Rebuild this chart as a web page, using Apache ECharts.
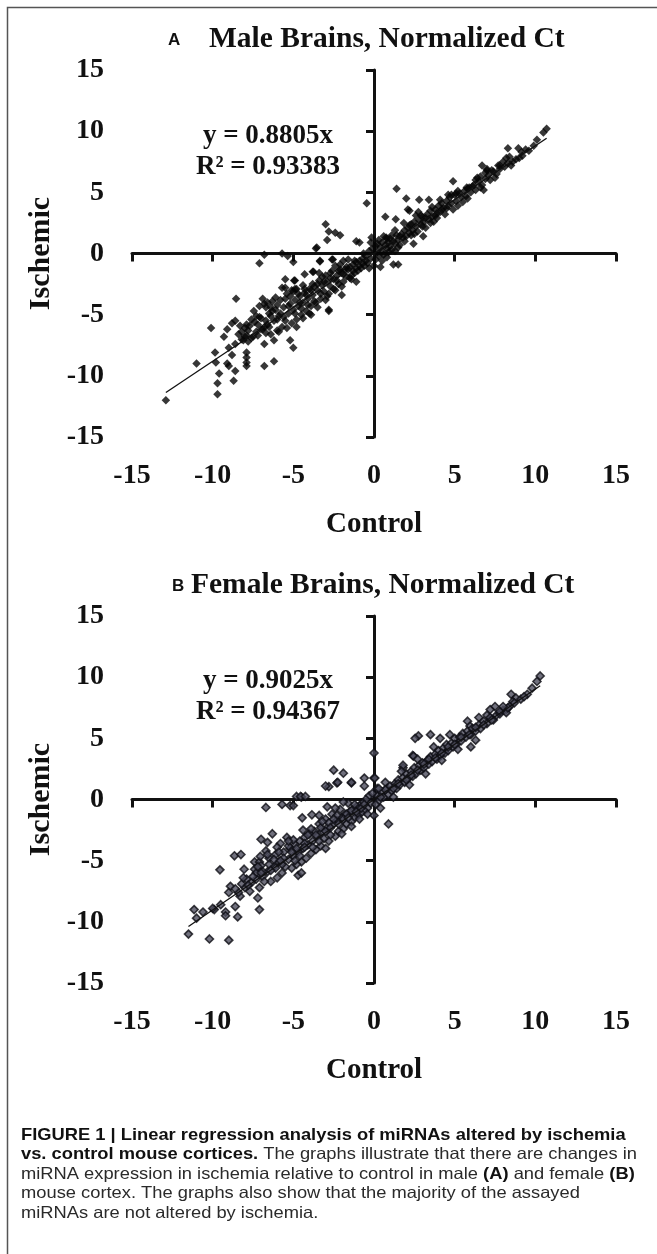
<!DOCTYPE html>
<html>
<head>
<meta charset="utf-8">
<script src="https://cdn.jsdelivr.net/npm/echarts@6/dist/echarts.min.js"></script>
<style>
  html, body { margin: 0; padding: 0; background: #fff; }
  #chart { width: 657px; height: 1254px; }
</style>
</head>
<body>
<div id="chart"></div>
<script>
// axis range shared by both panels
const axisMin = -15;
const axisMax = 15;
const axisStep = 5;

// regression results printed on each panel
const maleSlope = 0.8805;
const maleR2 = '0.93383';
const femaleSlope = 0.9025;
const femaleR2 = '0.94367';
const maleFitRange = [-12.9, 10.7];
const femaleFitRange = [-11.5, 10.3];

// male brains: [control, ischemic]
const malePoints = [
  [-12.9, -12.0], [-9.7, -11.5], [-9.7, -10.6], [-8.7, -10.4], [-9.6, -9.8], [-11.0, -9.0], [-9.85, -8.1],
  [-9.8, -8.9], [-9.1, -9.0], [-9.0, -9.2], [-8.6, -9.6], [-7.9, -9.2], [-7.9, -8.9], [-7.9, -8.5],
  [-7.9, -8.1], [-8.8, -8.3], [-9.0, -7.7], [-10.1, -6.1], [-9.3, -6.8], [-9.1, -6.2], [-8.8, -5.7],
  [-8.6, -5.5], [-8.55, -3.7], [-7.9, -5.8], [-8.2, -6.4], [-8.1, -7.1], [-7.8, -7.2], [-7.5, -6.8],
  [-7.2, -6.7], [-6.8, -7.4], [-6.8, -9.2], [-6.2, -8.8], [-7.45, -4.7], [-6.9, -3.7], [-6.8, -4.1],
  [-7.1, -5.2], [-6.7, -5.5], [-6.5, -6.0], [-6.2, -7.1], [-7.1, -0.8], [-6.8, -0.1], [-5.7, 0.0],
  [-5.35, -0.2], [-5.0, -0.7], [-5.5, -2.1], [-5.5, -2.8], [-4.9, -2.2], [-4.9, -2.9], [-5.0, -7.7],
  [-5.2, -7.1], [-4.3, -1.7], [-3.8, -1.5], [-3.35, -0.6], [-2.6, -0.5], [-3.55, 0.5], [-2.8, -4.7],
  [-2.0, -3.4], [-1.1, -2.3], [-0.65, 0.0], [-0.45, 4.1], [-3.0, 2.4], [-2.8, 1.8], [-2.4, 1.7],
  [-2.1, 1.5], [-2.9, 1.1], [-1.1, 1.0], [-0.9, 0.9], [-0.15, 1.3], [0.8, 1.2], [-3.6, 0.4],
  [-3.35, -0.65], [-2.55, -0.5], [1.2, -0.9], [1.5, -0.9], [-4.95, -2.2], [-4.8, -2.9], [-3.75, -1.5],
  [-2.8, -4.6],
  [10.7, 10.2], [10.5, 9.9], [10.1, 9.3], [8.3, 8.6], [8.95, 8.6], [9.15, 8.3], [8.6, 7.5], [8.0, 7.5],
  [7.8, 7.2], [6.7, 7.2], [7.0, 6.8], [6.6, 6.3], [6.3, 6.0], [4.9, 5.9], [6.8, 5.2], [5.75, 5.4],
  [1.4, 5.3], [2.0, 4.5], [2.8, 4.4], [3.4, 4.4], [2.2, 3.5], [2.75, 3.4], [0.7, 3.0], [1.35, 2.8],
  [2.1, 3.6], [1.85, 2.5], [1.3, 1.9], [0.75, 1.3], [0.1, 0.6], [2.45, 0.8], [3.05, 1.4],
  [0.2, 0.1], [0.3, -0.2], [0.4, 0.5], [0.5, 0.2], [0.6, -0.1], [0.7, 0.7], [0.8, 0.4], [0.9, 0.9],
  [1.0, 0.6], [1.0, 1.2], [1.1, 0.3], [1.2, 1.0], [1.3, 0.8], [1.4, 1.5], [1.5, 1.1], [1.6, 0.7],
  [1.7, 1.6], [1.8, 1.3], [1.9, 1.9], [2.0, 1.4], [2.1, 2.1], [2.2, 1.7], [2.3, 2.4], [2.4, 1.9],
  [2.5, 2.6], [2.6, 2.2], [2.7, 1.8], [2.8, 2.7], [2.9, 2.4], [3.0, 3.0], [3.1, 2.6], [3.2, 2.1],
  [3.3, 3.2], [3.4, 2.8], [3.5, 3.5], [3.6, 3.0], [3.7, 2.6], [3.8, 3.6], [3.9, 3.3], [4.0, 3.9],
  [4.1, 3.4], [4.2, 4.1], [4.3, 3.7], [4.4, 3.2], [4.5, 4.3], [4.6, 3.9], [4.7, 4.6], [4.8, 4.1],
  [5.0, 4.8], [5.1, 4.3], [5.2, 3.9], [5.3, 4.9], [5.4, 4.6], [5.6, 5.1], [5.7, 4.7], [5.9, 5.4],
  [6.0, 5.0], [6.2, 5.6], [6.3, 5.2], [6.5, 5.9], [6.7, 5.6], [6.9, 6.1], [7.1, 6.4], [7.2, 6.0],
  [7.4, 6.7], [7.6, 6.5], [7.8, 6.9], [8.1, 7.1], [8.3, 7.4], [8.5, 7.2], [8.8, 7.7], [9.2, 8.0],
  [9.6, 8.4], [0.9, 0.1], [1.6, 1.4], [2.3, 1.5], [3.0, 2.2], [3.6, 3.8], [4.1, 4.4], [4.6, 4.8],
  [5.2, 5.1], [5.8, 4.5], [6.4, 6.2], [7.0, 6.9], [7.5, 6.2], [8.2, 7.8], [1.3, 0.2], [2.6, 3.1],
  [3.9, 2.9], [4.9, 3.6],
  [0.5, 0.9], [0.8, -0.3], [1.1, 1.5], [1.5, 0.5], [1.9, 1.0], [2.2, 2.3], [2.5, 1.6], [2.9, 3.1],
  [3.2, 2.9], [3.5, 2.5], [3.8, 3.1], [4.2, 3.6], [4.5, 3.7], [4.8, 4.8], [5.1, 4.9], [5.5, 4.2],
  [5.8, 5.3], [6.1, 5.5], [6.6, 5.4], [6.9, 6.6], [7.3, 6.8], [7.7, 7.2], [8.4, 7.9], [9.0, 7.8],
  [9.4, 8.5], [9.9, 8.8],
  [-0.2, -0.4], [-0.3, 0.2], [-0.4, -0.8], [-0.5, -0.2], [-0.6, -1.0], [-0.7, -0.4], [-0.8, -1.2],
  [-0.9, -0.6], [-1.0, -1.4], [-1.1, -0.7], [-1.2, -1.6], [-1.3, -0.9], [-1.4, -1.8], [-1.5, -1.1],
  [-1.6, -0.5], [-1.7, -1.9], [-1.8, -1.3], [-1.9, -2.3], [-2.0, -1.6], [-2.1, -0.9], [-2.2, -2.5],
  [-2.3, -1.8], [-2.4, -3.0], [-2.5, -2.1], [-2.6, -1.4], [-2.7, -2.7], [-2.8, -3.3], [-2.9, -2.3],
  [-3.0, -1.8], [-3.1, -3.1], [-3.2, -2.6], [-3.3, -3.7], [-3.4, -2.2], [-3.5, -3.0], [-3.6, -4.0],
  [-3.7, -2.7], [-3.8, -3.4], [-3.9, -4.3], [-4.0, -2.9], [-4.1, -3.7], [-4.2, -4.7], [-4.3, -3.2],
  [-4.4, -4.0], [-4.5, -5.0], [-4.6, -3.5], [-4.7, -4.3], [-4.8, -5.4], [-4.9, -3.8], [-5.0, -4.6],
  [-5.1, -5.7], [-5.2, -4.1], [-5.3, -4.9], [-5.4, -3.3], [-5.5, -5.5], [-5.6, -4.4], [-5.7, -6.0],
  [-5.8, -3.8], [-5.9, -5.1], [-6.0, -6.3], [-6.1, -4.6], [-6.2, -5.5], [-6.3, -3.9], [-6.4, -6.6],
  [-6.5, -4.9], [-6.6, -5.8], [-6.7, -4.4], [-6.9, -6.2], [-7.0, -5.3], [-7.1, -4.3], [-7.3, -6.4],
  [-7.4, -5.6], [-7.6, -6.9], [-7.7, -5.9], [-7.9, -6.7], [-8.0, -6.1], [-8.2, -7.0], [-8.4, -6.6],
  [-8.6, -7.4], [0.1, -0.5], [-0.1, 0.4], [0.2, 0.8], [0.3, 1.1], [0.5, -0.6], [-0.3, -1.2],
  [0.0, -1.0], [0.6, 1.4], [-0.2, 0.9], [0.4, -1.1],
  [-1.2, -0.6], [-1.6, -1.3], [-2.2, -1.4], [-2.7, -2.0], [-3.2, -1.9], [-3.8, -2.5], [-4.2, -3.4],
  [-4.6, -4.0], [-5.2, -3.5], [-5.6, -5.2], [-6.0, -5.4], [-6.4, -5.1], [-6.8, -6.0], [-7.2, -5.8],
  [-5.0, -3.1], [-4.4, -2.6], [-3.4, -1.6], [-2.4, -1.0], [-1.9, -0.6], [-6.1, -3.6], [-5.7, -2.8],
  [-4.0, -4.9], [-3.0, -3.8], [-2.0, -2.7], [-1.4, -2.1],
  [-6.6, -4.0], [-6.3, -4.7], [-6.0, -4.2], [-5.8, -4.9], [-5.5, -3.7], [-5.3, -4.3], [-5.1, -3.0],
  [-4.9, -4.9], [-4.7, -3.3], [-4.5, -4.5], [-4.3, -2.9], [-4.1, -4.2], [-3.9, -3.0], [-3.7, -3.9],
  [-3.5, -2.5], [-3.3, -3.3], [-3.1, -2.3], [-2.9, -3.5], [-2.7, -1.6], [-2.5, -2.9], [-2.3, -2.2],
  [-2.1, -1.3], [-1.9, -1.7], [-1.7, -1.1], [-1.5, -2.0], [-1.3, -1.4], [-1.1, -1.2], [-0.9, -1.0],
  [-0.7, -0.8], [-0.5, -0.6], [-7.3, -5.1], [-7.0, -6.2], [-6.7, -6.5], [-6.4, -4.4], [-5.9, -6.4],
  [-5.4, -6.1], [-4.8, -6.0], [-4.4, -5.3], [-3.9, -5.0], [-3.5, -4.4], [-8.3, -5.9], [-8.0, -6.8],
  [-7.6, -5.4], [-7.8, -6.3]
];

// female brains: [control, ischemic]
const femalePoints = [
  [10.3, 10.1], [10.1, 9.65], [9.8, 9.1], [8.5, 8.6], [8.8, 8.3], [8.6, 8.0], [8.2, 7.35], [7.5, 7.6],
  [7.2, 7.35], [7.0, 6.9], [6.5, 6.7], [5.8, 6.4], [5.95, 6.0], [3.5, 5.3], [2.75, 5.2], [2.55, 5.0],
  [4.1, 5.0], [6.3, 4.85], [6.0, 4.3], [2.4, 3.6], [1.8, 2.6], [0.0, 3.8], [0.0, 1.75], [0.2, 0.9],
  [-11.5, -11.0], [-10.2, -11.4], [-9.0, -11.5], [-11.15, -9.0], [-10.6, -9.2], [-11.0, -9.7],
  [-9.9, -9.0], [-9.2, -9.2], [-9.2, -9.5], [-8.45, -9.6], [-9.55, -5.75], [-8.65, -4.6], [-8.25, -4.5],
  [-8.05, -5.7], [-7.4, -5.1], [-7.1, -5.1], [-7.05, -4.65], [-7.0, -3.25], [-6.6, -3.5], [-6.7, -0.65],
  [-5.7, -0.4], [-5.2, -0.5], [-4.8, 0.25], [-4.5, 0.2], [-8.9, -7.1], [-8.3, -7.9], [-7.2, -8.05],
  [-7.1, -9.0], [-8.6, -8.75], [-4.7, -6.2], [-4.5, -6.0], [-4.45, -1.5], [-3.85, -1.25], [-2.9, -0.6],
  [-2.8, 1.05], [-2.3, 1.35], [-1.4, 1.35], [-2.5, 2.4], [-1.9, 2.15], [-2.25, 1.4], [-1.4, 1.4],
  [-3.0, 1.1], [-0.6, 1.75], [-0.6, 1.1], [0.05, 1.75], [-4.55, 0.25], [-4.25, 0.25], [-5.0, -0.5],
  [0.9, -2.0], [1.8, 2.8], [2.45, 3.55],
  [0.2, 0.3], [0.3, -0.1], [0.5, 0.6], [0.6, 0.2], [0.8, 0.9], [0.9, 0.4], [1.0, 1.1], [1.1, 0.7],
  [1.3, 1.3], [1.4, 0.9], [1.5, 1.6], [1.6, 1.2], [1.8, 1.8], [1.9, 1.4], [2.0, 2.1], [2.1, 1.7],
  [2.3, 2.3], [2.4, 1.9], [2.5, 2.6], [2.6, 2.1], [2.8, 2.8], [2.9, 2.4], [3.0, 3.0], [3.1, 2.6],
  [3.3, 3.2], [3.4, 2.9], [3.5, 3.5], [3.6, 3.1], [3.8, 3.7], [3.9, 3.3], [4.0, 4.0], [4.1, 3.6],
  [4.3, 4.2], [4.4, 3.8], [4.5, 4.5], [4.6, 4.0], [4.8, 4.6], [4.9, 4.3], [5.0, 5.0], [5.1, 4.5],
  [5.3, 5.1], [5.4, 4.8], [5.5, 5.4], [5.7, 5.1], [5.8, 5.6], [6.0, 5.3], [6.1, 5.8], [6.3, 5.6],
  [6.5, 6.1], [6.6, 5.8], [6.8, 6.4], [7.0, 6.2], [7.2, 6.7], [7.4, 6.5], [7.6, 6.9], [7.8, 7.0],
  [8.0, 7.3], [8.2, 7.1], [8.4, 7.6], [8.7, 7.9], [9.1, 8.2], [9.5, 8.6], [1.2, 0.2], [2.2, 1.2],
  [3.2, 2.1], [4.2, 3.2], [5.2, 4.1], [2.7, 3.3], [3.7, 4.3], [4.7, 5.3], [1.7, 2.3], [0.7, 1.4],
  [0.4, 0.2], [0.7, 0.8], [1.2, 0.9], [1.5, 1.3], [2.0, 1.6], [2.3, 2.0], [2.7, 2.4], [3.1, 2.9],
  [3.4, 3.3], [3.8, 3.4], [4.2, 3.8], [4.6, 4.3], [5.0, 4.5], [5.4, 5.1], [5.9, 5.3], [6.3, 5.9],
  [6.8, 6.1], [7.3, 6.5], [7.8, 7.2], [8.3, 7.5], [9.3, 8.4], [8.0, 7.6],
  [-0.2, -0.3], [-0.3, 0.3], [-0.4, -0.7], [-0.5, 0.0], [-0.6, -0.9], [-0.7, -0.3], [-0.8, -1.1],
  [-0.9, -0.5], [-1.0, -1.3], [-1.1, -0.6], [-1.2, -1.5], [-1.3, -0.8], [-1.4, -1.8], [-1.5, -1.0],
  [-1.6, -0.3], [-1.7, -2.0], [-1.8, -1.2], [-1.9, -2.4], [-2.0, -1.5], [-2.1, -0.8], [-2.2, -2.6],
  [-2.3, -1.7], [-2.4, -3.0], [-2.5, -2.0], [-2.6, -1.2], [-2.7, -2.9], [-2.8, -3.4], [-2.9, -2.3],
  [-3.0, -1.6], [-3.1, -3.2], [-3.2, -2.6], [-3.3, -3.8], [-3.4, -2.0], [-3.5, -3.0], [-3.6, -4.1],
  [-3.7, -2.6], [-3.8, -3.4], [-3.9, -4.4], [-4.0, -2.8], [-4.1, -3.7], [-4.2, -4.8], [-4.3, -3.1],
  [-4.4, -4.0], [-4.5, -5.1], [-4.6, -3.4], [-4.7, -4.3], [-4.8, -5.3], [-4.9, -3.7], [-5.0, -4.6],
  [-5.1, -5.6], [-5.2, -4.0], [-5.3, -4.9], [-5.4, -3.1], [-5.5, -5.5], [-5.6, -4.3], [-5.7, -6.0],
  [-5.8, -3.6], [-5.9, -5.1], [-6.0, -6.4], [-6.1, -4.5], [-6.2, -5.5], [-6.3, -2.8], [-6.4, -6.7],
  [-6.5, -4.8], [-6.6, -5.9], [-6.7, -4.2], [-6.9, -6.3], [-7.0, -5.4], [-7.1, -7.2], [-7.3, -6.5],
  [-7.4, -5.7], [-7.6, -6.8], [-7.7, -7.5], [-7.9, -6.5], [-8.0, -7.2], [-8.2, -6.9], [-8.4, -7.6],
  [-8.6, -7.3], [-9.0, -7.6], [-9.5, -8.6], [-10.0, -8.9],
  [-1.2, -0.4], [-1.7, -1.2], [-2.3, -1.3], [-2.8, -1.9], [-3.3, -2.3], [-3.9, -2.4], [-4.3, -3.6],
  [-4.8, -4.0], [-5.3, -3.8], [-5.7, -5.3], [-6.1, -5.6], [-6.5, -5.3], [-6.9, -5.9], [-7.3, -6.0],
  [-5.0, -3.3], [-4.4, -2.5], [-3.4, -1.3], [-2.4, -0.7], [-1.9, -0.2], [-6.0, -3.9], [-3.0, -4.0],
  [-2.0, -2.8], [-1.4, -2.2], [-0.9, -1.6], [-0.4, -1.2], [0.1, -0.4], [-0.1, 0.5], [0.3, 0.9],
  [0.4, -0.7], [0.0, -1.3],
  [-6.6, -4.5], [-6.2, -4.9], [-5.9, -4.3], [-5.6, -4.8], [-5.3, -3.4], [-5.1, -4.3], [-4.9, -5.0],
  [-4.6, -4.6], [-4.3, -3.9], [-4.1, -2.9], [-3.8, -3.9], [-3.6, -2.9], [-3.4, -3.4], [-3.2, -1.8],
  [-3.0, -2.6], [-2.7, -2.3], [-2.5, -1.6], [-2.2, -2.0], [-1.9, -1.6], [-1.6, -1.5], [-1.4, -0.9],
  [-1.1, -1.0], [-0.8, -0.7], [-0.6, -0.4], [-7.5, -6.3], [-7.2, -5.5], [-6.8, -6.7], [-8.1, -6.4],
  [-7.8, -7.0], [-7.0, -6.0], [-6.4, -5.8], [-5.8, -5.0]
];

const serif = 'Liberation Serif, Times New Roman, serif';
const sans = 'Liberation Sans, Arial, sans-serif';
const ink = '#111';

// panel boxes (px) - A on top, B below
const panels = [
  { top: 70, name: 'A', nameX: 168, titleX: 209, title: 'Male Brains, Normalized Ct', slope: maleSlope, r2: maleR2, pts: malePoints, fit: maleFitRange },
  { top: 616, name: 'B', nameX: 172, titleX: 191, title: 'Female Brains, Normalized Ct', slope: femaleSlope, r2: femaleR2, pts: femalePoints, fit: femaleFitRange }
];

const grids = [];
const xAxes = [];
const yAxes = [];
const series = [];
const graphics = [];

panels.forEach((p, i) => {
  grids.push({ left: 132, top: p.top, width: 484, height: 367 });
  const base = { type: 'value', gridIndex: i, min: axisMin, max: axisMax, interval: axisStep, splitLine: { show: false } };
  // axis drawn through zero, ticks only
  xAxes.push(Object.assign({}, base, {
    position: 'bottom',
    axisLine: { show: true, onZero: true, onZeroAxisIndex: i * 2, lineStyle: { color: ink, width: 3 } },
    axisTick: { show: true, length: 8, lineStyle: { color: ink, width: 3 } },
    axisLabel: { show: false }
  }));
  // labels along the bottom edge
  xAxes.push(Object.assign({}, base, {
    position: 'bottom',
    axisLine: { show: false, onZero: false },
    axisTick: { show: false },
    axisLabel: { show: true, margin: 25, color: ink, fontFamily: serif, fontWeight: 'bold', fontSize: 28 },
    name: 'Control',
    nameLocation: 'middle',
    nameGap: 88,
    nameTextStyle: { color: ink, fontFamily: serif, fontWeight: 'bold', fontSize: 29, verticalAlign: 'middle' }
  }));
  yAxes.push(Object.assign({}, base, {
    position: 'left',
    axisLine: { show: true, onZero: true, onZeroAxisIndex: i * 2, lineStyle: { color: ink, width: 3 } },
    axisTick: { show: true, length: 8, lineStyle: { color: ink, width: 3 } },
    axisLabel: { show: false }
  }));
  yAxes.push(Object.assign({}, base, {
    position: 'left',
    axisLine: { show: false, onZero: false },
    axisTick: { show: false },
    axisLabel: { show: true, margin: 28, color: ink, fontFamily: serif, fontWeight: 'bold', fontSize: 28, padding: [9, 0, 0, 0] },
    name: 'Ischemic',
    nameLocation: 'middle',
    nameGap: 77,
    nameRotate: 90,
    nameTextStyle: { color: ink, fontFamily: serif, fontWeight: 'bold', fontSize: 30, verticalAlign: 'middle' }
  }));

  series.push({
    type: 'scatter',
    xAxisIndex: i * 2,
    yAxisIndex: i * 2,
    symbol: 'diamond',
    symbolSize: i === 0 ? 8.5 : 8,
    itemStyle: i === 0
      ? { color: '#050505' }
      : { color: '#4c4c5c', borderColor: '#0e0e14', borderWidth: 1.6 },
    data: p.pts,
    z: 3
  });
  series.push({
    type: 'line',
    xAxisIndex: i * 2,
    yAxisIndex: i * 2,
    symbol: 'none',
    lineStyle: { color: ink, width: 1.3 },
    data: p.fit.map((x) => [x, +(p.slope * x).toFixed(3)]),
    z: 4
  });

  const titleY = p.top - 30;
  graphics.push({
    type: 'text', left: p.nameX, top: titleY - 8,
    style: { text: p.name, font: 'bold 17px ' + sans, fill: ink }
  });
  graphics.push({
    type: 'text', left: p.titleX, top: titleY - 16,
    style: { text: p.title, font: 'bold 29.5px ' + serif, fill: ink }
  });
  graphics.push({
    type: 'text', x: 268, y: p.top + 82 - i * 1.5,
    style: {
      text: 'y = ' + p.slope.toFixed(4) + 'x\nR² = ' + p.r2,
      font: 'bold 27px ' + serif, fill: ink, align: 'center', verticalAlign: 'middle', lineHeight: 31
    }
  });
});

// outer frame (left and top edges visible)
graphics.push({
  type: 'rect', shape: { x: 7.5, y: 7.5, width: 720, height: 1320 },
  style: { fill: 'none', stroke: '#555', lineWidth: 1.5 }, silent: true
});

// figure caption
const captionLines = [
  '{b|FIGURE 1 | Linear regression analysis of miRNAs altered by ischemia}',
  '{b|vs. control mouse cortices.} The graphs illustrate that there are changes in',
  'miRNA expression in ischemia relative to control in male {b|(A)} and female {b|(B)}',
  'mouse cortex. The graphs also show that the majority of the assayed',
  'miRNAs are not altered by ischemia.'
];
captionLines.forEach((line, k) => {
  graphics.push({
    type: 'text', x: 21, y: 1135 + k * 19.5, scaleX: 1.11, originX: 0,
    style: {
      text: line,
      font: '16.5px ' + sans,
      fill: '#2a2a2a',
      verticalAlign: 'middle',
      rich: { b: { fontWeight: 'bold', fontSize: 16.5, fontFamily: sans, fill: '#111' } }
    }
  });
});

const chart = echarts.init(document.getElementById('chart'));
chart.setOption({
  backgroundColor: '#fff',
  animation: false,
  grid: grids,
  xAxis: xAxes,
  yAxis: yAxes,
  series: series,
  graphic: graphics
});
</script>
</body>
</html>
